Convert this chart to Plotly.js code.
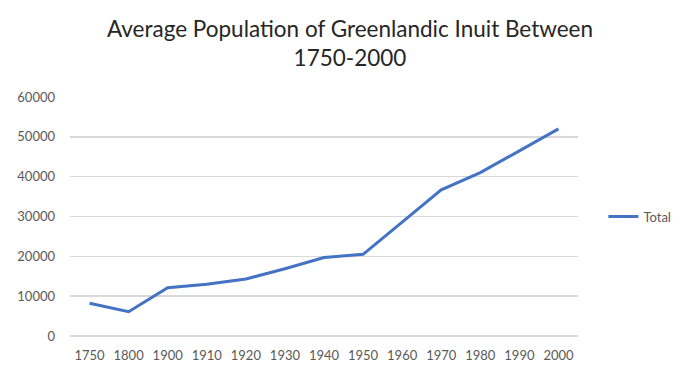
<!DOCTYPE html>
<html>
<head>
<meta charset="utf-8">
<script src="https://cdn.plot.ly/plotly-3.0.1.min.js"></script>
<style>html,body{margin:0;padding:0;background:#fff}#chart{width:700px;height:378px}</style>
</head>
<body>
<div id="chart"></div>
<script>
const years = ["1750","1800","1900","1910","1920","1930","1940","1950","1960","1970","1980","1990","2000"];
const total = [8200, 6100, 12100, 13000, 14300, 16900, 19700, 20500, 28600, 36700, 41000, 46500, 52000];
const yTicks = [0, 10000, 20000, 30000, 40000, 50000, 60000];
const seriesName = "Total";
const titleText = "Average Population of Greenlandic Inuit Between<br>1750-2000";

const trace = {
  x: years, y: total, type: "scatter", mode: "lines", name: seriesName,
  line: {color: "#4472C4", width: 3}
};
const layout = {
  width: 700, height: 378,
  margin: {l: 70, r: 122, t: 97, b: 42},
  paper_bgcolor: "#fff", plot_bgcolor: "#fff",
  font: {family: "Lato, 'Open Sans', sans-serif", color: "#595959", size: 13},
  title: {text: titleText, font: {size: 22.5, color: "#262626", family: "Lato, sans-serif"}, x: 0.5, xanchor: "center", y: 0.903, yanchor: "middle"},
  xaxis: {type: "category", range: [-0.5, years.length - 0.5], showgrid: false, showline: false, zeroline: false, ticks: "", ticklabelstandoff: 10, tickfont: {size: 13, color: "#595959"}},
  yaxis: {range: [0, 60000], tickvals: yTicks, ticktext: yTicks.map(String), showgrid: true, gridcolor: "#d9d9d9", gridwidth: 1.5, zeroline: true, zerolinecolor: "#d9d9d9", zerolinewidth: 1.5, showline: false, ticks: "", ticklabelstandoff: 14, tickfont: {size: 13, color: "#595959"}},
  showlegend: true,
  legend: {x: 1.05, xanchor: "left", y: 0.5, yanchor: "middle", font: {size: 13, color: "#595959"}, itemwidth: 30}
};
Plotly.newPlot("chart", [trace], layout, {displayModeBar: false, staticPlot: true});
</script>
</body>
</html>
